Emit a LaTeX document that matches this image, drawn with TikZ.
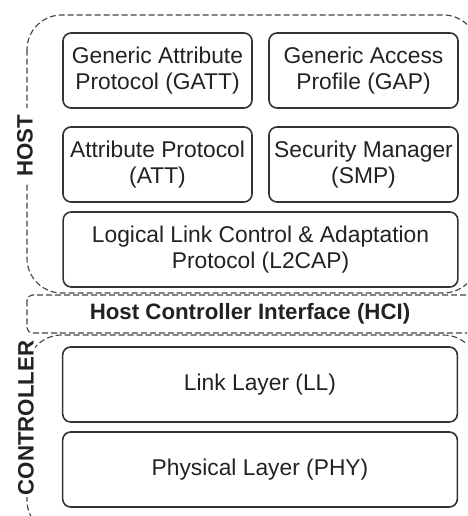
\documentclass[tikz,border=0pt]{standalone}
\usepackage{fontspec}
\setmainfont{Liberation Sans}
\definecolor{boxline}{HTML}{333333}
\definecolor{dashline}{HTML}{444444}
\definecolor{labeltext}{HTML}{222222}
\tikzset{layer/.style={
		draw=boxline, line width=1.2pt, rounded corners=6pt,
		minimum height=56.25pt, inner sep=0pt, align=center,
		text=labeltext, font=\fontsize{17.1}{19.4}\selectfont
}}
\tikzset{halfbox/.style={layer, minimum width=141.75pt}}
\tikzset{fullbox/.style={layer, minimum width=296pt}}
\tikzset{groupline/.style={
		draw=dashline, line width=0.85pt, dash pattern=on 4.5pt off 2.25pt
}}
\tikzset{sidelabel/.style={
		rotate=90, fill=white, inner sep=1pt, text=labeltext,
		font=\fontsize{16.7}{19}\selectfont\bfseries
}}

\begin{document}
\begin{tikzpicture}[x=0.75pt,y=-0.75pt]
  \useasboundingbox (0,0) rectangle (467,516);
  \clip (0,0) rectangle (467,516);

  % host / hci / controller groups
  \draw[groupline, rounded corners=26pt] (27,15) rectangle (478,293);
  \draw[groupline, rounded corners=4pt] (27,295) rectangle (476,333);
  \draw[groupline, rounded corners=26pt] (27,335) rectangle (478,535);

  \node[font=\fontsize{16.7}{19}\selectfont\bfseries, text=labeltext] (hci) at (250,314) {Host Controller Interface (HCI)};
  \node[sidelabel, minimum width=57pt] (host) at (25,146) {HOST};
  \node[sidelabel, minimum width=114pt] (ctrl) at (26,418) {CONTROLLER};

  % host layers
  \node[halfbox] (gatt) at (157.5,70.5) {Generic Attribute\\Protocol (GATT)};
  \node[halfbox] (gap) at (363.5,70.5) {Generic Access\\Profile (GAP)};
  \node[halfbox] (att) at (157.5,164.5) {Attribute Protocol\\(ATT)};
  \node[halfbox] (smp) at (363.5,164.5) {Security Manager\\(SMP)};
  \node[fullbox] (l2cap) at (260.5,249.5) {Logical Link Control \& Adaptation\\Protocol (L2CAP)};

  % controller layers
  \node[fullbox] (ll) at (260,384.5) {Link Layer (LL)};
  \node[fullbox] (phy) at (260,469.5) {Physical Layer (PHY)};
\end{tikzpicture}
\end{document}
